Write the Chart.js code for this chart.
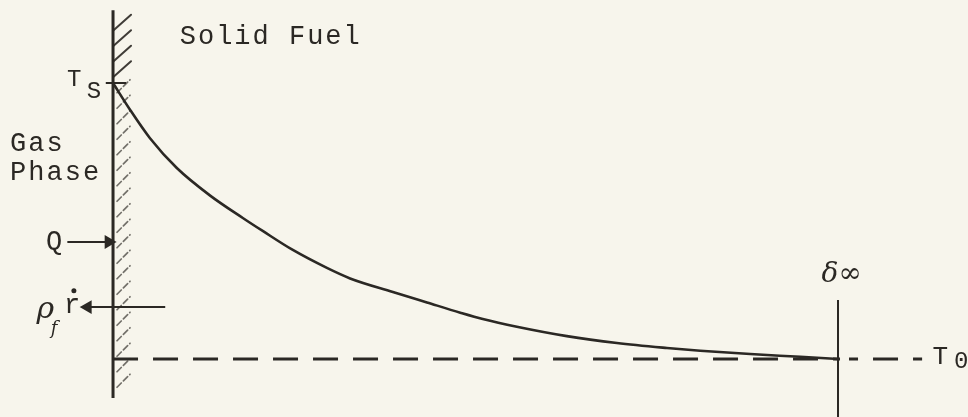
<!DOCTYPE html>
<html>
<head>
<meta charset="utf-8">
<script src="https://cdn.jsdelivr.net/npm/chart.js@4.4.0/dist/chart.umd.min.js"></script>
<style>
  body { margin: 0; background: #f7f5ec; }
  #wrap { width: 968px; height: 417px; }
</style>
</head>
<body>
<div id="wrap"><canvas id="profile-chart" width="968" height="417"></canvas></div>
<script>
// temperature profile in the gas phase, x = distance / delta_inf, y = (T - T0) / (Ts - T0)
var profileX = [0, 0.023, 0.051, 0.088, 0.134, 0.179, 0.207, 0.248, 0.295, 0.327, 0.386, 0.433, 0.479, 0.510, 0.557, 0.626, 0.695, 0.764, 0.810, 0.879, 0.948, 1.0];
var profileY = [1.0, 0.905, 0.800, 0.692, 0.592, 0.511, 0.463, 0.395, 0.330, 0.292, 0.243, 0.205, 0.168, 0.145, 0.117, 0.083, 0.058, 0.040, 0.030, 0.018, 0.008, 0.0];

// reference levels
var wallX = 0;        // fuel surface
var edgeX = 1;        // delta infinity
var surfaceT = 1;     // Ts
var ambientT = 0;     // T0

var ink = '#2b2824';

function pts(xs, ys) {
    var out = [];
    for (var i = 0; i < xs.length; i++) out.push({ x: xs[i], y: ys[i] });
    return out;
}

// hatching on the wall + text labels
var sketchPlugin = {
    id: 'sketch',
    afterDatasetsDraw: function (chart) {
        var c = chart.ctx;
        var xs = chart.scales.x, ys = chart.scales.y;
        var wx = xs.getPixelForValue(wallX);
        var top = ys.getPixelForValue(1.24);
        var bot = ys.getPixelForValue(-0.13);
        var tsPx = ys.getPixelForValue(surfaceT);
        c.save();
        c.strokeStyle = ink;
        c.lineCap = 'round';
        for (var y = top + 14; y < bot; y += 15.5) {
            c.beginPath();
            if (y < tsPx) {
                c.lineWidth = 2;
                c.setLineDash([]);
                c.globalAlpha = 0.9;
                c.moveTo(wx, y);
                c.lineTo(wx + 18, y - 16);
            } else {
                c.lineWidth = 1.7;
                c.setLineDash([6, 3]);
                c.globalAlpha = 0.65;
                c.moveTo(wx + 4, y);
                c.lineTo(wx + 17, y - 13);
            }
            c.stroke();
        }
        c.setLineDash([]);
        c.globalAlpha = 1;

        // gap in the T0 dashes just right of delta inf
        var ex = xs.getPixelForValue(edgeX), ey = ys.getPixelForValue(ambientT);
        c.fillStyle = '#f7f5ec';
        c.fillRect(ex + 2, ey - 3, 9, 6);

        function txt(s, x, y, font, align) {
            c.font = font;
            c.textAlign = align || 'left';
            c.textBaseline = 'middle';
            c.fillStyle = ink;
            c.fillText(s, xs.getPixelForValue(x), ys.getPixelForValue(y));
        }
        var mono = '27px "Liberation Mono", monospace';
        c.letterSpacing = '2px';
        txt('Solid Fuel', 0.092, 1.167, mono);
        txt('Gas', -0.142, 0.778, mono);
        txt('Phase', -0.142, 0.673, mono);
        txt('T', -0.052, 1.011, '24px "Liberation Mono", monospace', 'center');
        txt('S', -0.025, 0.967, '24px "Liberation Mono", monospace', 'center');
        txt('Q', -0.080, 0.424, mono, 'center');
        txt('r', -0.055, 0.192, mono, 'center');
        c.beginPath();
        c.arc(xs.getPixelForValue(-0.054), ys.getPixelForValue(0.247), 2.5, 0, Math.PI * 2);
        c.fill();
        txt('\u03C1', -0.092, 0.177, 'italic 30px "DejaVu Serif", serif', 'center');
        txt('f', -0.080, 0.107, 'italic 18px "DejaVu Serif", serif', 'center');
        c.letterSpacing = '0px';
        txt('\u03B4\u221E', 1.005, 0.304, 'italic 28px "DejaVu Serif", serif', 'center');
        txt('T', 1.141, 0.008, '26px "Liberation Mono", monospace', 'center');
        txt('0', 1.170, -0.008, '24px "Liberation Mono", monospace', 'center');
        c.restore();
    }
};

var ctx = document.getElementById('profile-chart').getContext('2d');
var chart = new Chart(ctx, {
    type: 'scatter',
    data: {
        datasets: [
            {
                label: 'Temperature profile',
                data: pts(profileX, profileY),
                showLine: true,
                borderColor: ink,
                borderWidth: 2.6,
                pointRadius: 0,
                cubicInterpolationMode: 'monotone'
            },
            {
                label: 'Wall',
                data: pts([wallX, wallX], [1.264, -0.141]),
                showLine: true,
                borderColor: ink,
                borderWidth: 3,
                pointRadius: 0
            },
            {
                label: 'T0',
                data: pts([wallX, 1.116], [ambientT, ambientT]),
                showLine: true,
                borderColor: ink,
                borderWidth: 3,
                borderDash: [25, 15],
                pointRadius: 0
            },
            {
                label: 'delta inf',
                data: pts([edgeX, edgeX], [0.214, -0.25]),
                showLine: true,
                borderColor: ink,
                borderWidth: 2,
                pointRadius: 0
            },
            {
                label: 'Ts tick',
                data: pts([-0.010, 0.018], [surfaceT, surfaceT]),
                showLine: true,
                borderColor: ink,
                borderWidth: 2,
                pointRadius: 0
            },
            {
                label: 'Q',
                data: pts([-0.063, -0.006], [0.424, 0.424]),
                showLine: true,
                borderColor: ink,
                backgroundColor: ink,
                borderWidth: 2,
                pointStyle: 'triangle',
                pointRadius: [0, 6],
                pointRotation: 90
            },
            {
                label: 'r dot',
                data: pts([0.072, -0.035], [0.188, 0.188]),
                showLine: true,
                borderColor: ink,
                backgroundColor: ink,
                borderWidth: 2,
                pointStyle: 'triangle',
                pointRadius: [0, 6],
                pointRotation: -90
            }
        ]
    },
    options: {
        responsive: false,
        animation: false,
        layout: { padding: 0, autoPadding: false },
        plugins: {
            legend: { display: false },
            tooltip: { enabled: false }
        },
        scales: {
            x: { type: 'linear', display: false, min: -0.1559, max: 1.1793 },
            y: { type: 'linear', display: false, min: -0.2101, max: 1.3007 }
        }
    },
    plugins: [sketchPlugin]
});
</script>
</body>
</html>
